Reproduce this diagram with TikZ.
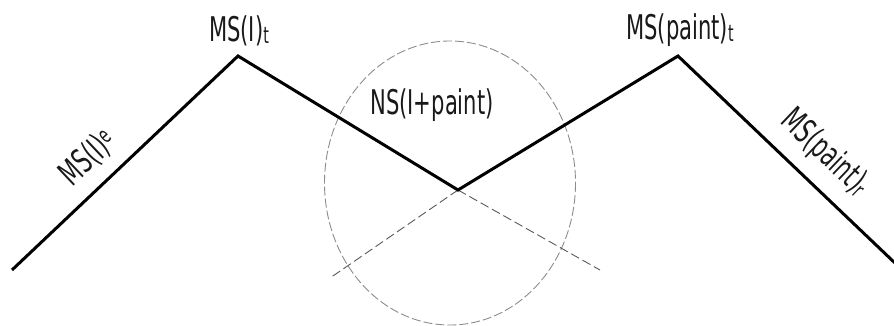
\documentclass[tikz,border=0pt]{standalone}
\usepackage{fontspec}
\newfontfamily\labfont{DejaVu Sans}[FakeStretch=0.62]
\newcommand{\lowsub}[1]{\raisebox{-2pt}{\fontsize{23}{23}\selectfont #1}}
\newcommand{\highsup}[1]{\raisebox{8pt}{\fontsize{23}{23}\selectfont #1}}
\begin{document}
\begin{tikzpicture}[x=1pt,y=-1pt,
  lbl/.style={font=\labfont\fontsize{34}{34}\selectfont, inner sep=0pt, text=black!90},
  mainline/.style={line width=3pt, line join=miter, black},
  guide/.style={line width=0.9pt, draw=black!65, dash pattern=on 9pt off 4pt},
  ring/.style={line width=0.9pt, draw=black!45, dash pattern=on 9pt off 3pt}]
\useasboundingbox (0,0) rectangle (894,325);
\coordinate (a) at (12,270);
\coordinate (b) at (238,56);
\coordinate (c) at (458,190);
\coordinate (d) at (678,56);
\coordinate (e) at (896,264);
\coordinate (gl) at (330,278);
\coordinate (gr) at (600,270);
\coordinate (ec) at (450,183);
\draw[ring] (ec) ellipse [x radius=125.5, y radius=142];
\draw[guide] (c) -- (gl);
\draw[guide] (c) -- (gr);
\draw[mainline] (a) -- (b) -- (c) -- (d) -- (e);
\node[lbl, anchor=base] (lt) at (239,41) {MS(I)\lowsub{t}};
\node[lbl, anchor=base] (pt) at (680,39) {MS(paint)\lowsub{t}};
\node[lbl, anchor=base] (ns) at (432,114) {NS(I+paint)};
\node[lbl, rotate=43.4] (le) at (88,158) {MS(I)\highsup{e}};
\node[lbl, rotate=-43.6] (pr) at (825,153) {MS(paint)\lowsub{r}};
\end{tikzpicture}
\end{document}
